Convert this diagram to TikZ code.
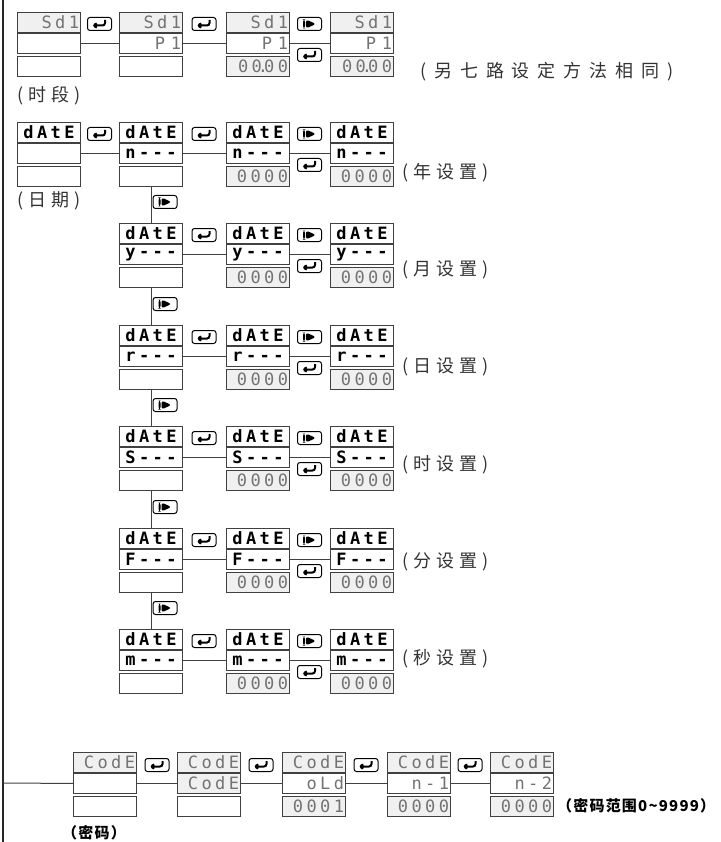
\documentclass[tikz,border=0pt]{standalone}
\usepackage{fontspec}
\usetikzlibrary{positioning}
\newfontfamily\cjk[LetterSpace=28]{Noto Sans CJK SC}
\newfontfamily\cjkwide[LetterSpace=44]{Noto Sans CJK SC}
\newfontfamily\cjkbold[LetterSpace=8]{Noto Sans CJK SC}
\newfontfamily\segfont[LetterSpace=20]{DejaVu Sans Mono}
\tikzset{
  seg/.style={rectangle,draw=black!75,line width=1.1pt,minimum width=63pt,minimum height=20pt,inner sep=0pt},
  thin/.style={seg,text width=60pt,align=right,font=\segfont\fontsize{17}{17}\selectfont,text=black!55},
  thinfill/.style={thin,fill=black!6},
  bold/.style={seg,font=\segfont\bfseries\fontsize{17}{17}\selectfont},
  key/.style={rectangle,draw,rounded corners=2.5pt,line width=1pt,minimum width=24pt,minimum height=13pt,inner sep=0pt},
  enterkey/.style={key,path picture={
    \draw[line width=2pt] ([shift={(5.5pt,4pt)}]path picture bounding box.center)
      -- ([shift={(5.5pt,-1.5pt)}]path picture bounding box.center)
      -- ([shift={(-3pt,-1.5pt)}]path picture bounding box.center);
    \fill ([shift={(-7.5pt,-1.5pt)}]path picture bounding box.center)
      -- ([shift={(-2.5pt,2.5pt)}]path picture bounding box.center)
      -- ([shift={(-2.5pt,-5.5pt)}]path picture bounding box.center) -- cycle;}},
  playkey/.style={key,path picture={
    \fill ([shift={(-6.5pt,-4.5pt)}]path picture bounding box.center)
      rectangle ([shift={(-4.5pt,4.5pt)}]path picture bounding box.center);
    \fill ([shift={(-3.5pt,-4.5pt)}]path picture bounding box.center)
      -- ([shift={(6.5pt,0pt)}]path picture bounding box.center)
      -- ([shift={(-3.5pt,4.5pt)}]path picture bounding box.center) -- cycle;}},
  line/.style={black!75,line width=1pt},
  rail/.style={black!85,line width=1.8pt},
  note/.style={anchor=west,inner sep=0pt,text=black!80,font=\cjk\fontsize{18}{18}\selectfont},
  boldnote/.style={anchor=west,inner sep=0pt,font=\cjkbold\bfseries\fontsize{15}{15}\selectfont}
}
% one display: name, top-left corner, then style and text of its three rows
\newcommand{\lcd}[8]{%
  \node[#3,anchor=north west] (#1t) at (#2) {#4};
  \node[#5,below=0pt of #1t] (#1m) {#6};
  \node[#7,below=1.5pt of #1m] (#1b) {#8};
}
\newcommand{\dotnum}{00\kern-4pt.\kern-4pt00}

\begin{document}
\begin{tikzpicture}[x=1pt,y=-1pt]
\useasboundingbox (0,0) rectangle (720,842);
\coordinate (railtop) at (3,0);
\coordinate (railbot) at (3,842);
\draw[rail] (railtop) -- (railbot);

% time segments
\lcd{a1}{17,12}{thinfill}{Sd1}{thin}{}{thin}{}
\lcd{a2}{119,12}{thinfill}{Sd1}{thin}{P 1}{thin}{}
\lcd{a3}{226,12}{thinfill}{Sd1}{thin}{P 1}{thinfill}{\dotnum}
\lcd{a4}{330,12}{thinfill}{Sd1}{thin}{P 1}{thinfill}{\dotnum}
\node[enterkey] (ka1) at (99.5,24) {};
\node[enterkey] (ka2) at (204,24) {};
\node[playkey] (ka3) at (309.5,24) {};
\node[enterkey] (ka4) at (309.5,55) {};
\draw[line] (a1m) -- (a2m);
\draw[line] (a2m) -- (a3m);
\draw[line] (a3m) -- (a4m);
\node[note] (na) at (17,96) {(时段)};
\node[note,font=\cjkwide\fontsize{18}{18}\selectfont] (nb) at (420,72) {(另七路设定方法相同)};

% date
\lcd{b1}{17,122}{bold}{dAtE}{thin}{}{thin}{}
\lcd{b2}{119,122}{bold}{dAtE}{bold}{n---}{thin}{}
\lcd{b3}{226,122}{bold}{dAtE}{bold}{n---}{thinfill}{0000}
\lcd{b4}{330,122}{bold}{dAtE}{bold}{n---}{thinfill}{0000}
\node[enterkey] (kb1) at (99.5,134) {};
\node[enterkey] (kb2) at (204,134) {};
\node[playkey] (kb3) at (309.5,134) {};
\node[enterkey] (kb4) at (309.5,165) {};
\draw[line] (b1m) -- (b2m);
\draw[line] (b2m) -- (b3m);
\draw[line] (b3m) -- (b4m);
\node[note] (nc) at (17,201) {(日期)};
\node[note] (nd) at (402,173) {(年设置)};

\lcd{c1}{119,223}{bold}{dAtE}{bold}{y---}{thin}{}
\lcd{c2}{226,223}{bold}{dAtE}{bold}{y---}{thinfill}{0000}
\lcd{c3}{330,223}{bold}{dAtE}{bold}{y---}{thinfill}{0000}
\lcd{d1}{119,325}{bold}{dAtE}{bold}{r---}{thin}{}
\lcd{d2}{226,325}{bold}{dAtE}{bold}{r---}{thinfill}{0000}
\lcd{d3}{330,325}{bold}{dAtE}{bold}{r---}{thinfill}{0000}
\lcd{e1}{119,426}{bold}{dAtE}{bold}{S---}{thin}{}
\lcd{e2}{226,426}{bold}{dAtE}{bold}{S---}{thinfill}{0000}
\lcd{e3}{330,426}{bold}{dAtE}{bold}{S---}{thinfill}{0000}
\lcd{f1}{119,528}{bold}{dAtE}{bold}{F---}{thin}{}
\lcd{f2}{226,528}{bold}{dAtE}{bold}{F---}{thinfill}{0000}
\lcd{f3}{330,528}{bold}{dAtE}{bold}{F---}{thinfill}{0000}
\lcd{g1}{119,629}{bold}{dAtE}{bold}{m---}{thin}{}
\lcd{g2}{226,629}{bold}{dAtE}{bold}{m---}{thinfill}{0000}
\lcd{g3}{330,629}{bold}{dAtE}{bold}{m---}{thinfill}{0000}

\foreach \r/\y in {c/223,d/325,e/426,f/528,g/629} {
  \node[enterkey] (k\r1) at (204,\y+12) {};
  \node[playkey] (k\r2) at (309.5,\y+12) {};
  \node[enterkey] (k\r3) at (309.5,\y+43) {};
  \draw[line] (\r1m) -- (\r2m);
  \draw[line] (\r2m) -- (\r3m);
}
\foreach \a/\b/\y in {b2/c1/202,c1/d1/304,d1/e1/405,e1/f1/507,f1/g1/608} {
  \draw[line] (\a b) -- (\b t);
  \node[playkey] (kv\b) at (165,\y) {};
}
\node[note] (ne) at (402,270) {(月设置)};
\node[note] (nf) at (402,367) {(日设置)};
\node[note] (ng) at (402,465) {(时设置)};
\node[note] (nh) at (402,562) {(分设置)};
\node[note] (ni) at (402,659) {(秒设置)};

% code
\coordinate (codein) at (3,783);
\lcd{x1}{73,752}{thinfill}{CodE}{thin}{}{thin}{}
\lcd{x2}{177,752}{thinfill}{CodE}{thinfill}{CodE}{thin}{}
\lcd{x3}{282,752}{thinfill}{CodE}{thin}{oLd}{thinfill}{0001}
\lcd{x4}{387,752}{thinfill}{CodE}{thin}{n-1}{thinfill}{0000}
\lcd{x5}{490,752}{thinfill}{CodE}{thin}{n-2}{thinfill}{0000}
\draw[line] (codein) -- (x1m);
\foreach \a/\b/\x in {x1/x2/157,x2/x3/261,x3/x4/366,x4/x5/470} {
  \node[enterkey] (k\a) at (\x,765) {};
  \draw[line] (\a m) -- (\b m);
}
\node[boldnote] (nj) at (62,833) {（密码）};
\node[boldnote] (nk) at (557,806) {（密码范围0\textasciitilde9999）};
\end{tikzpicture}
\end{document}
